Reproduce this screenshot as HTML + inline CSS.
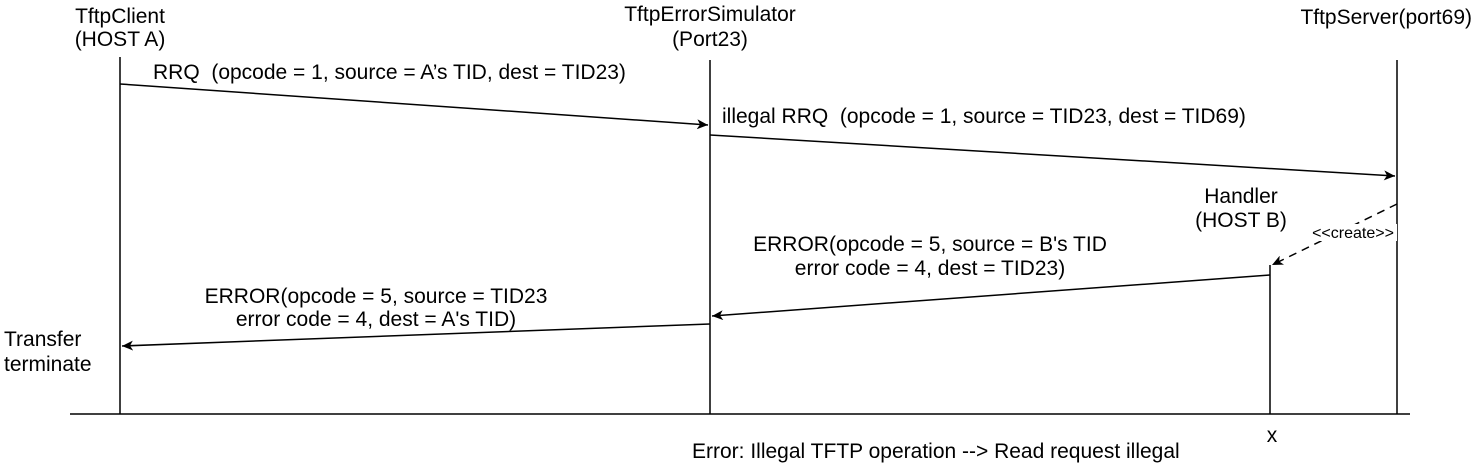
<!DOCTYPE html>
<html><head><meta charset="utf-8"><style>
html,body{margin:0;padding:0;background:#fff;}
svg{display:block;}
text{font-family:"Liberation Sans",Arial,sans-serif;font-size:21px;fill:#000;}
</style></head><body>
<svg width="1478" height="465" viewBox="0 0 1478 465">
<defs>
<marker id="ah" markerWidth="12" markerHeight="10" refX="11" refY="5" orient="auto" markerUnits="userSpaceOnUse">
<path d="M0,0 L11,5 L0,10 L3,5 Z" fill="#000"/>
</marker>
</defs>
<g stroke="#000" stroke-width="1.5" fill="none">
<line x1="120" y1="57" x2="120" y2="414"/>
<line x1="710" y1="60" x2="710" y2="414"/>
<line x1="1397" y1="60" x2="1397" y2="414"/>
<line x1="1270" y1="265" x2="1270" y2="414"/>
<line x1="70" y1="414" x2="1410" y2="414"/>
<line x1="120" y1="84" x2="708" y2="125" marker-end="url(#ah)"/>
<line x1="710" y1="135" x2="1395" y2="176" marker-end="url(#ah)"/>
<line x1="1397" y1="204" x2="1272" y2="265" stroke-dasharray="8,6" marker-end="url(#ah)"/>
<line x1="1270" y1="275" x2="712" y2="316" marker-end="url(#ah)"/>
<line x1="710" y1="324" x2="122" y2="346" marker-end="url(#ah)"/>
</g>
<rect x="1309" y="224" width="88" height="17" fill="#fff"/>
<text x="120" y="23" text-anchor="middle">TftpClient</text>
<text x="120" y="46" text-anchor="middle">(HOST A)</text>
<text x="710" y="21" text-anchor="middle">TftpErrorSimulator</text>
<text x="710" y="46" text-anchor="middle">(Port23)</text>
<text x="1472" y="24" text-anchor="end">TftpServer(port69)</text>
<text x="153" y="79" xml:space="preserve">RRQ  (opcode = 1, source = A’s TID, dest = TID23)</text>
<text x="722" y="123" xml:space="preserve">illegal RRQ  (opcode = 1, source = TID23, dest = TID69)</text>
<text x="1241" y="203" text-anchor="middle">Handler</text>
<text x="1241" y="227" text-anchor="middle">(HOST B)</text>
<text x="1353" y="238" text-anchor="middle" style="font-size:16px">&lt;&lt;create&gt;&gt;</text>
<text x="930" y="251" text-anchor="middle">ERROR(opcode = 5, source = B's TID</text>
<text x="930" y="275" text-anchor="middle">error code = 4, dest = TID23)</text>
<text x="376" y="303" text-anchor="middle">ERROR(opcode = 5, source = TID23</text>
<text x="376" y="326" text-anchor="middle">error code = 4, dest = A's TID)</text>
<text x="4" y="346">Transfer</text>
<text x="4" y="371">terminate</text>
<text x="1272" y="442" text-anchor="middle">x</text>
<text x="692" y="458">Error: Illegal TFTP operation --&gt; Read request illegal</text>
</svg>
</body></html>
